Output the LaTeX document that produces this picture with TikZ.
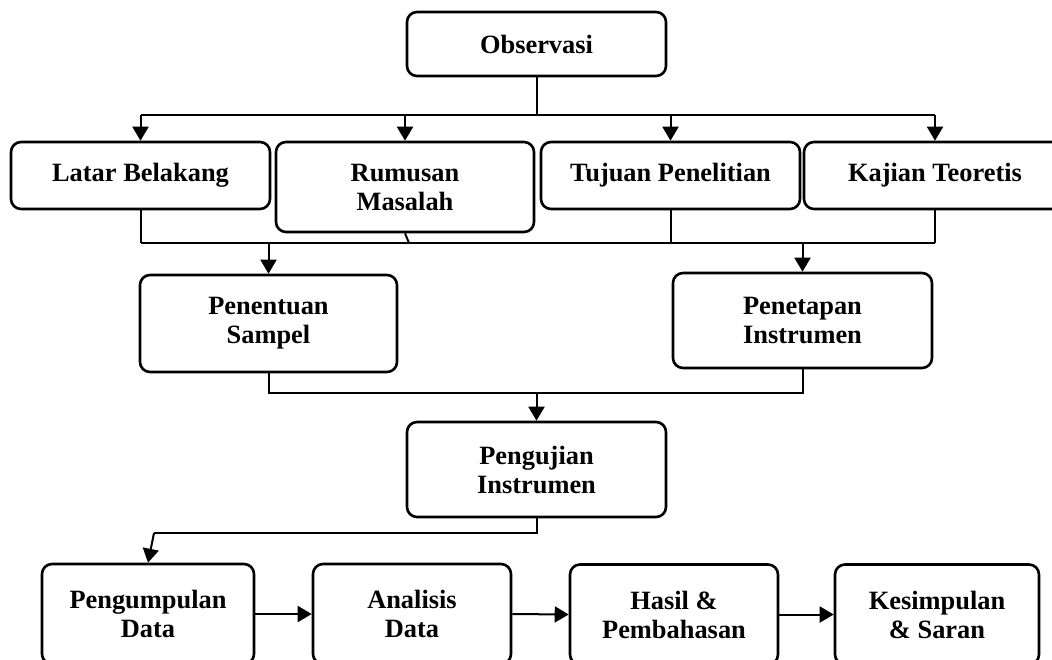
\documentclass[tikz,border=0pt]{standalone}
\usepackage{fontspec}
\setmainfont{Liberation Serif}
\usetikzlibrary{arrows.meta}
\begin{document}
\begin{tikzpicture}[x=0.5pt,y=-0.5pt,
  box/.style={draw, line width=1.3pt, rounded corners=5pt, inner sep=0pt,
    align=center, font=\fontsize{13.2}{14.5}\selectfont\bfseries},
  conn/.style={line width=1pt},
  arr/.style={line width=1pt, -{Triangle[length=7pt,width=8pt]}}]
\useasboundingbox (0,0) rectangle (1052,659);
\clip (0,0) rectangle (1052,659);
% nodes
\node[box, minimum width=129.5pt, minimum height=32pt] (obs) at (536.5,44) {Observasi};
\node[box, minimum width=129.5pt, minimum height=33.5pt] (lb) at (140.5,175.5) {Latar Belakang};
\node[box, minimum width=129pt, minimum height=45pt] (rm) at (405,187) {Rumusan\\Masalah};
\node[box, minimum width=129.5pt, minimum height=33.5pt] (tp) at (670.5,175.5) {Tujuan Penelitian};
\node[box, minimum width=131pt, minimum height=33.5pt] (kt) at (935,175.5) {Kajian Teoretis};
\node[box, minimum width=128.5pt, minimum height=48.5pt] (pr) at (268.5,323.5) {Penentuan\\Sampel};
\node[box, minimum width=129.5pt, minimum height=47.5pt] (pi) at (802.5,320.5) {Penetapan\\Instrumen};
\node[box, minimum width=129.5pt, minimum height=47.5pt] (pu) at (536.5,469.5) {Pengujian\\Instrumen};
\node[box, minimum width=106pt, minimum height=50pt] (pd) at (148,614) {Pengumpulan\\Data};
\node[box, minimum width=99pt, minimum height=50pt] (ad) at (412,614) {Analisis\\Data};
\node[box, minimum width=104pt, minimum height=50pt] (hp) at (674,614.5) {Hasil \&\\Pembahasan};
\node[box, minimum width=102pt, minimum height=50pt] (ks) at (937,614.5) {Kesimpulan\\\& Saran};
% junction coordinates
\coordinate (j1) at (536.5,115);
\coordinate (j2) at (536.5,243);
\coordinate (j3) at (536.5,393);
\coordinate (bend) at (154,533);
\coordinate (rmfoot) at (409,243);
% observasi branches
\draw[conn] (obs.south) -- (j1);
\draw[conn] (j1 -| lb) -- (j1 -| kt);
\draw[arr] (j1 -| lb) -- (lb.north);
\draw[arr] (j1 -| rm) -- (rm.north);
\draw[arr] (j1 -| tp) -- (tp.north);
\draw[arr] (j1 -| kt) -- (kt.north);
% merge of row 2
\draw[conn] (lb.south) -- (lb.south |- j2);
\draw[conn] (rm.south) -- (rmfoot);
\draw[conn] (tp.south) -- (tp.south |- j2);
\draw[conn] (kt.south) -- (kt.south |- j2);
\draw[conn] (lb.south |- j2) -- (kt.south |- j2);
\draw[arr] (pr.north |- j2) -- (pr.north);
\draw[arr] (pi.north |- j2) -- (pi.north);
% merge of row 3
\draw[conn] (pr.south) -- (pr.south |- j3) -- (pi.south |- j3) -- (pi.south);
\draw[arr] (pu.north |- j3) -- (pu.north);
% to data collection
\draw[conn] (pu.south) -- (pu.south |- bend) -- (bend);
\draw[arr] (bend) -- (pd.north);
% bottom chain
\draw[arr] (pd.east) -- (ad.west);
\draw[arr] (ad.east) -- (hp.west);
\draw[arr] (hp.east) -- (ks.west);
\end{tikzpicture}
\end{document}
